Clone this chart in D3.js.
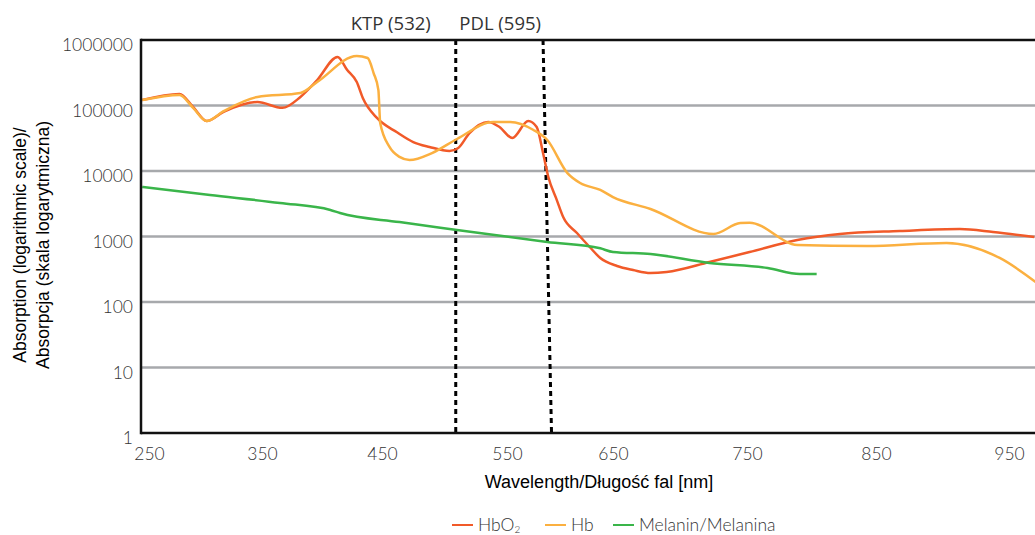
<!DOCTYPE html>
<html>
<head>
<meta charset="utf-8">
<style>
body { margin: 0; background: #fff; }
text { font-family: Lato, "Open Sans", sans-serif; fill: #3a3a3a; }
</style>
</head>
<body>
<script src="https://d3js.org/d3.v7.min.js"></script>
<script>
// wavelength [nm] and absorption
var xTicks = [250, 350, 450, 550, 650, 750, 850, 950];
var yTicks = [1, 10, 100, 1000, 10000, 100000, 1000000];

var hbo2 = [[244,121000],[277,150000],[289,95000],[301,58000],[316,80000],[346,113000],[367,92000],
  [382,135000],[396,245000],[413,550000],[421,348000],[429,228000],[434,130000],[446,64000],
  [462,39000],[475,27700],[488,23300],[504,20200],[511,22500],[520,38000],[535,56000],[544,47000],
  [555,31900],[570,58000],[578,47000],[584,18800],[589,8100],[597,3600],[603,1985],[616,1130],
  [628,691],[638,470],[653,355],[665,308],[678,277],[690,287],[722,408],[752,580],[789,885],
  [822,1092],[868,1213],[913,1302],[938,1172],[969,983]];

var hb = [[244,121000],[277,145000],[289,92000],[301,58000],[316,82000],[346,135000],[382,155000],
  [396,228000],[429,570000],[438,531000],[443,313000],[447,172000],[448.5,54000],[456,23300],
  [464,16400],[472,14700],[490,18800],[510,30800],[539,56000],[553,56000],[575,42300],[588,29700],
  [607,9300],[619,6560],[638,5130],[650,4000],[678,2630],[725,1092],[745,1607],[752,1625],
  [789,742],[843,716],[903,796],[943,470],[970,202]];

var melanin = [[244,5700],[304,4300],[365,3250],[407,2540],[415,2280],[464,1660],[510,1260],
  [588,824],[638,660],[650,580],[678,540],[722,394],[766,330],[791,268],[804,268]];

var laserNames = ["KTP (532)", "PDL (595)"];
var laserTop = [509, 584];
var laserBottom = [509, 592];

var seriesNames = ["HbO", "Hb", "Melanin/Melanina"];
var seriesData = [hbo2, hb, melanin];
var colors = ["#f15a29", "#fbb040", "#3ab54a"];

// layout
var width = 1035, height = 535;
var plotLeft = 141, plotRight = 1035, plotTop = 40, plotBottom = 433;
var tickPixels = [149, 262, 382, 507, 613, 747, 876, 1009];

var x = d3.scaleLinear().domain(xTicks).range(tickPixels);
var y = d3.scaleLog().domain([1, 1000000]).range([plotBottom, plotTop]);

var svg = d3.select("body").append("svg")
  .attr("width", width)
  .attr("height", height);

svg.append("defs").append("clipPath").attr("id", "plot")
  .append("rect")
  .attr("x", plotLeft).attr("y", plotTop - 5)
  .attr("width", plotRight - plotLeft).attr("height", plotBottom - plotTop + 5);

// grid
svg.append("g").selectAll("line")
  .data(yTicks.slice(1, -1))
  .enter().append("line")
  .attr("x1", plotLeft).attr("x2", plotRight)
  .attr("y1", function(d) { return y(d); })
  .attr("y2", function(d) { return y(d); })
  .attr("stroke", "#a7a9ac")
  .attr("stroke-width", 2.5);

// laser lines
var lasers = svg.append("g");
lasers.selectAll("line")
  .data(laserNames)
  .enter().append("line")
  .attr("x1", function(d, i) { return x(laserTop[i]); })
  .attr("x2", function(d, i) { return x(laserBottom[i]); })
  .attr("y1", plotTop)
  .attr("y2", plotBottom)
  .attr("stroke", "#000")
  .attr("stroke-width", 3)
  .attr("stroke-dasharray", "5,4");

lasers.selectAll("text")
  .data(laserNames)
  .enter().append("text")
  .attr("x", function(d, i) { return x(laserTop[i]) - (i == 0 ? 25 : 2); })
  .attr("y", 30)
  .attr("text-anchor", "end")
  .style("font-family", "'Open Sans', sans-serif")
  .style("font-size", "18.5px")
  .style("fill", "#333")
  .text(function(d) { return d; });

// curves
var line = d3.line()
  .x(function(d) { return x(d[0]); })
  .y(function(d) { return y(d[1]); })
  .curve(d3.curveMonotoneX);

svg.append("g").attr("clip-path", "url(#plot)")
  .selectAll("path")
  .data(seriesData)
  .enter().append("path")
  .attr("d", line)
  .attr("fill", "none")
  .attr("stroke", function(d, i) { return colors[i]; })
  .attr("stroke-width", 2.5)
  .attr("stroke-linejoin", "round");

// frame
var frame = svg.append("g").attr("stroke", "#111").attr("stroke-width", 2.5);
frame.append("line").attr("x1", plotLeft).attr("x2", plotRight).attr("y1", plotTop).attr("y2", plotTop);
frame.append("line").attr("x1", plotLeft).attr("x2", plotRight).attr("y1", plotBottom).attr("y2", plotBottom);
frame.append("line").attr("x1", plotLeft).attr("x2", plotLeft).attr("y1", plotTop - 1.25).attr("y2", plotBottom + 1.25);

// axes
var yAxis = svg.append("g")
  .attr("transform", "translate(" + (plotLeft - 8) + ",0)")
  .call(d3.axisLeft(y).tickValues(yTicks).tickFormat(d3.format("d")).tickSize(0).tickPadding(0));
yAxis.select(".domain").remove();
yAxis.selectAll("text")
  .attr("dy", "0.32em")
  .attr("y", 5)
  .style("font-size", "17.5px")
  .style("font-family", "Lato, sans-serif")
  .style("font-weight", 300)
  .style("fill", "#333");

var xAxis = svg.append("g")
  .attr("transform", "translate(0," + plotBottom + ")")
  .call(d3.axisBottom(x).tickValues(xTicks).tickSize(0).tickPadding(0));
xAxis.select(".domain").remove();
xAxis.selectAll("text")
  .attr("dy", 0)
  .attr("y", 27)
  .style("font-size", "17.5px")
  .style("font-family", "Lato, sans-serif")
  .style("font-weight", 300)
  .style("fill", "#333");

// axis titles
svg.append("text")
  .attr("x", 599).attr("y", 488)
  .attr("text-anchor", "middle")
  .style("font-family", "'Liberation Sans', Arial, sans-serif")
  .style("font-size", "18px")
  .style("fill", "#000")
  .text("Wavelength/Długość fal [nm]");

var yTitle = svg.append("text")
  .attr("transform", "translate(0,245) rotate(-90)")
  .attr("text-anchor", "middle")
  .style("font-family", "'Liberation Sans', Arial, sans-serif")
  .style("font-size", "17.5px")
  .style("fill", "#000");
yTitle.append("tspan").attr("x", 0).attr("y", 26).text("Absorption (logarithmic scale)/");
yTitle.append("tspan").attr("x", 0).attr("y", 49).text("Absorpcja (skala logarytmiczna)");

// legend
var legendX = [452, 545, 613];
var legend = svg.append("g").selectAll("g")
  .data(seriesNames)
  .enter().append("g")
  .attr("transform", function(d, i) { return "translate(" + legendX[i] + ",525)"; });
legend.append("line")
  .attr("x1", 0).attr("x2", 21)
  .attr("stroke", function(d, i) { return colors[i]; })
  .attr("stroke-width", 2);
var legendText = legend.append("text")
  .attr("x", 26).attr("y", 6)
  .style("font-size", "17.5px")
  .style("font-weight", 300)
  .style("fill", "#333")
  .text(function(d) { return d; });
legendText.filter(function(d, i) { return i == 0; })
  .append("tspan")
  .attr("dy", 2)
  .style("font-size", "10px")
  .text("2");
</script>
</body>
</html>
